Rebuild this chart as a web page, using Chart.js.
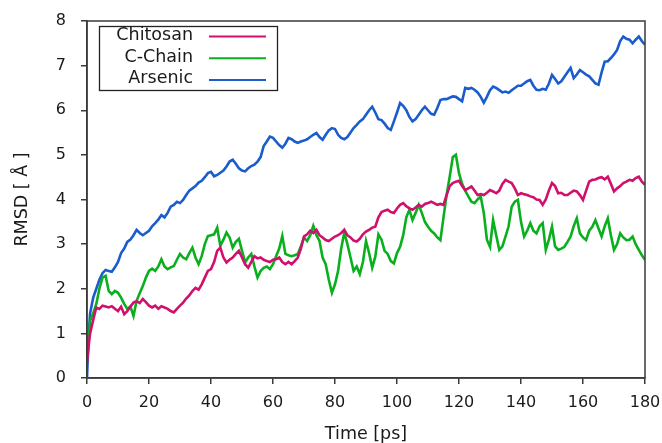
<!DOCTYPE html>
<html>
<head>
<meta charset="utf-8">
<script src="https://cdn.jsdelivr.net/npm/chart.js@4"></script>
<style>
  html, body { margin: 0; padding: 0; background: #fff; overflow: hidden; }
  body { width: 662px; height: 443px; }
</style>
</head>
<body>
<canvas id="grafico" width="662" height="452"></canvas>
<script>
// tiempo en ps
const tiempo = [0, 0.5, 1, 2, 3, 4, 5, 6, 7, 8, 9, 10, 11, 12, 13, 14, 15, 16, 17, 18, 19, 20,
  21, 22, 23, 24, 25, 26, 27, 28, 29, 30, 31, 32, 33, 34, 35, 36, 37, 38, 39, 40,
  41, 42, 43, 44, 45, 46, 47, 48, 49, 50, 51, 52, 53, 54, 55, 56, 57, 58, 59, 60,
  61, 62, 63, 64, 65, 66, 67, 68, 69, 70, 71, 72, 73, 74, 75, 76, 77, 78, 79, 80,
  81, 82, 83, 84, 85, 86, 87, 88, 89, 90, 91, 92, 93, 94, 95, 96, 97, 98, 99, 100,
  101, 102, 103, 104, 105, 106, 107, 108, 109, 110, 111, 112, 113, 114, 115, 116, 117, 118, 119, 120,
  121, 122, 123, 124, 125, 126, 127, 128, 129, 130, 131, 132, 133, 134, 135, 136, 137, 138, 139, 140,
  141, 142, 143, 144, 145, 146, 147, 148, 149, 150, 151, 152, 153, 154, 155, 156, 157, 158, 159, 160,
  161, 162, 163, 164, 165, 166, 167, 168, 169, 170, 171, 172, 173, 174, 175, 176, 177, 178, 179, 180];

const chitosan = [0.35, 0.7, 1.0, 1.3, 1.58, 1.55, 1.62, 1.6, 1.58, 1.61, 1.55, 1.5, 1.6, 1.43, 1.5, 1.6, 1.69, 1.72, 1.68, 1.77, 1.7, 1.62,
  1.58, 1.62, 1.55, 1.61, 1.58, 1.55, 1.5, 1.47, 1.55, 1.62, 1.69, 1.78, 1.85, 1.95, 2.02, 1.98, 2.1, 2.25, 2.4, 2.44,
  2.6, 2.85, 2.92, 2.7, 2.59, 2.65, 2.7, 2.78, 2.85, 2.7, 2.55, 2.47, 2.6, 2.73, 2.68, 2.7, 2.65, 2.62, 2.6, 2.65,
  2.66, 2.7, 2.6, 2.55, 2.6, 2.55, 2.62, 2.7, 2.9, 3.17, 3.22, 3.3, 3.25, 3.32, 3.2, 3.15, 3.09, 3.07, 3.12, 3.17,
  3.2, 3.25, 3.32, 3.2, 3.15, 3.08, 3.06, 3.12, 3.22, 3.28, 3.32, 3.37, 3.39, 3.6, 3.72, 3.75, 3.77, 3.72, 3.7, 3.8,
  3.88, 3.92, 3.85, 3.8, 3.77, 3.82, 3.88, 3.84, 3.9, 3.92, 3.95, 3.92, 3.88, 3.9, 3.88, 4.1, 4.3, 4.37, 4.4, 4.42,
  4.3, 4.21, 4.25, 4.29, 4.2, 4.1, 4.12, 4.1, 4.15, 4.21, 4.18, 4.14, 4.2, 4.35, 4.44, 4.4, 4.37, 4.25, 4.1, 4.14,
  4.12, 4.1, 4.07, 4.05, 4.0, 3.99, 3.88, 4.0, 4.2, 4.37, 4.3, 4.14, 4.15, 4.1, 4.1, 4.15, 4.2, 4.18, 4.1, 3.99,
  4.2, 4.4, 4.44, 4.45, 4.48, 4.5, 4.45, 4.51, 4.35, 4.18, 4.25, 4.3, 4.37, 4.4, 4.44, 4.42, 4.48, 4.51, 4.4, 4.33];

const cChain = [0.38, 0.8, 1.28, 1.45, 1.66, 2.0, 2.25, 2.29, 1.95, 1.88, 1.95, 1.91, 1.8, 1.66, 1.55, 1.6, 1.39, 1.73, 1.9, 2.06, 2.25, 2.4,
  2.45, 2.4, 2.5, 2.66, 2.5, 2.44, 2.48, 2.51, 2.65, 2.78, 2.7, 2.66, 2.8, 2.92, 2.7, 2.55, 2.73, 3.0, 3.18, 3.2,
  3.22, 3.37, 2.96, 3.1, 3.26, 3.15, 2.92, 3.05, 3.12, 2.85, 2.59, 2.7, 2.78, 2.5, 2.25, 2.4, 2.47, 2.5, 2.44, 2.55,
  2.73, 2.9, 3.18, 2.78, 2.75, 2.73, 2.75, 2.78, 2.95, 3.15, 3.07, 3.2, 3.41, 3.2, 3.07, 2.7, 2.55, 2.2, 1.91, 2.1,
  2.4, 2.9, 3.26, 3.0, 2.7, 2.4, 2.5, 2.33, 2.6, 3.07, 2.8, 2.47, 2.72, 3.22, 3.1, 2.85, 2.78, 2.62, 2.57, 2.8,
  2.94, 3.2, 3.6, 3.77, 3.54, 3.7, 3.88, 3.7, 3.5, 3.39, 3.3, 3.24, 3.15, 3.09, 3.6, 4.1, 4.51, 4.95, 5.0, 4.59,
  4.35, 4.2, 4.07, 3.95, 3.92, 4.0, 4.07, 3.7, 3.1, 2.94, 3.54, 3.2, 2.87, 2.95, 3.17, 3.4, 3.84, 3.95, 3.99, 3.5,
  3.17, 3.3, 3.47, 3.3, 3.24, 3.4, 3.47, 2.87, 3.1, 3.39, 2.95, 2.87, 2.9, 2.94, 3.05, 3.17, 3.4, 3.58, 3.24, 3.15,
  3.09, 3.3, 3.39, 3.54, 3.35, 3.17, 3.4, 3.58, 3.2, 2.87, 3.0, 3.24, 3.15, 3.09, 3.1, 3.17, 3.0, 2.87, 2.75, 2.65];

const arsenic = [0, 0.9, 1.45, 1.8, 2.0, 2.2, 2.35, 2.42, 2.4, 2.38, 2.48, 2.6, 2.8, 2.9, 3.05, 3.1, 3.2, 3.32, 3.25, 3.2, 3.25, 3.3,
  3.4, 3.47, 3.55, 3.65, 3.6, 3.7, 3.84, 3.88, 3.95, 3.92, 3.99, 4.1, 4.2, 4.25, 4.3, 4.38, 4.42, 4.5, 4.59, 4.62,
  4.52, 4.55, 4.6, 4.65, 4.74, 4.85, 4.89, 4.8, 4.7, 4.65, 4.63, 4.7, 4.75, 4.78, 4.85, 4.95, 5.2, 5.3, 5.41, 5.38,
  5.3, 5.22, 5.16, 5.25, 5.38, 5.35, 5.3, 5.27, 5.3, 5.32, 5.35, 5.4, 5.45, 5.49, 5.4, 5.34, 5.45, 5.55, 5.6, 5.58,
  5.45, 5.38, 5.35, 5.4, 5.5, 5.6, 5.67, 5.75, 5.8, 5.9, 6.0, 6.08, 5.95, 5.8, 5.78, 5.7, 5.6, 5.56, 5.75, 5.95,
  6.16, 6.1, 6.0, 5.85, 5.75, 5.8, 5.9, 6.0, 6.08, 6.0, 5.92, 5.9, 6.05, 6.23, 6.25, 6.25, 6.28, 6.31, 6.3, 6.25,
  6.2, 6.5, 6.48, 6.5, 6.46, 6.4, 6.3, 6.17, 6.3, 6.45, 6.53, 6.5, 6.45, 6.4, 6.42, 6.39, 6.45, 6.5, 6.55, 6.55,
  6.6, 6.65, 6.68, 6.55, 6.46, 6.45, 6.48, 6.46, 6.6, 6.79, 6.7, 6.6, 6.65, 6.75, 6.85, 6.95, 6.72, 6.8, 6.9, 6.85,
  6.8, 6.76, 6.68, 6.6, 6.57, 6.85, 7.09, 7.1, 7.17, 7.25, 7.35, 7.55, 7.65, 7.6, 7.58, 7.5, 7.58, 7.65, 7.55, 7.47];

const etiquetasX = [0, 20, 40, 60, 80, 100, 120, 140, 160, 180];
const etiquetasY = [0, 1, 2, 3, 4, 5, 6, 7, 8];

const fuente = 'DejaVu Sans';
const texto = '#1a1a1a';
const marco = '#3a3a3a';

function serie(valores) {
    return valores.map((v, i) => ({ x: tiempo[i], y: v }));
}

// marco completo + leyenda con texto a la izquierda
const marcoYLeyenda = {
    id: 'marcoYLeyenda',
    afterDraw(chart) {
        const { ctx, chartArea: a } = chart;
        ctx.save();
        ctx.strokeStyle = marco;
        ctx.lineWidth = 1.5;
        ctx.strokeRect(a.left, a.top, a.right - a.left, a.bottom - a.top);

        ctx.fillStyle = '#fff';
        ctx.fillRect(99, 26, 178, 64);
        ctx.strokeStyle = '#222';
        ctx.lineWidth = 1.3;
        ctx.strokeRect(99.5, 26.5, 178, 64);

        ctx.font = '17.5px "' + fuente + '"';
        ctx.textAlign = 'right';
        ctx.textBaseline = 'middle';
        chart.data.datasets.forEach((ds, i) => {
            const y = 36.5 + i * 21.7;
            ctx.fillStyle = texto;
            ctx.fillText(ds.label, 193, y - 1);
            ctx.strokeStyle = ds.borderColor;
            ctx.lineWidth = 2;
            ctx.beginPath();
            ctx.moveTo(209, y);
            ctx.lineTo(266, y);
            ctx.stroke();
        });
        ctx.restore();
    }
};

const ctx = document.getElementById('grafico').getContext('2d');
const chart = new Chart(ctx, {
    type: 'line',
    data: {
        datasets: [
            { label: 'Chitosan', borderColor: '#d0106c', data: serie(chitosan) },
            { label: 'C-Chain', borderColor: '#0aaf1e', data: serie(cChain) },
            { label: 'Arsenic', borderColor: '#1a5ccc', data: serie(arsenic) }
        ]
    },
    options: {
        responsive: false,
        animation: false,
        devicePixelRatio: 1,
        layout: { padding: { left: 0, top: 21, right: 17, bottom: 0 } },
        elements: {
            point: { radius: 0 },
            line: { borderWidth: 2.6, tension: 0, fill: false }
        },
        plugins: {
            legend: { display: false },
            tooltip: { enabled: false }
        },
        scales: {
            x: {
                type: 'linear',
                min: 0,
                max: 180,
                afterFit: (s) => { s.height = 452 - 378; s.paddingLeft = 0; s.paddingRight = 0; },
                afterBuildTicks: (s) => { s.ticks = etiquetasX.map(v => ({ value: v })); },
                grid: { display: true, drawOnChartArea: false, drawTicks: true, tickLength: 6, color: marco, lineWidth: 1.5 },
                border: { display: true, color: marco, width: 1.5 },
                ticks: { color: texto, font: { family: fuente, size: 16 }, padding: 9, maxRotation: 0 },
                title: { display: true, text: 'Time [ps]', color: texto, font: { family: fuente, size: 17.5 }, padding: { top: 0, bottom: 7 } }
            },
            y: {
                min: 0,
                max: 8,
                afterFit: (s) => { s.width = 87; s.paddingTop = 0; s.paddingBottom = 0; },
                afterBuildTicks: (s) => { s.ticks = etiquetasY.map(v => ({ value: v })); },
                grid: { display: true, drawOnChartArea: false, drawTicks: true, tickLength: 6, color: marco, lineWidth: 1.5 },
                border: { display: true, color: marco, width: 1.5 },
                ticks: { color: texto, font: { family: fuente, size: 16 }, padding: 15 },
                title: { display: true, text: 'RMSD [ Å ]', color: texto, font: { family: fuente, size: 17.5 }, padding: { top: 12, bottom: 0 } }
            }
        }
    },
    plugins: [marcoYLeyenda]
});
</script>
</body>
</html>
